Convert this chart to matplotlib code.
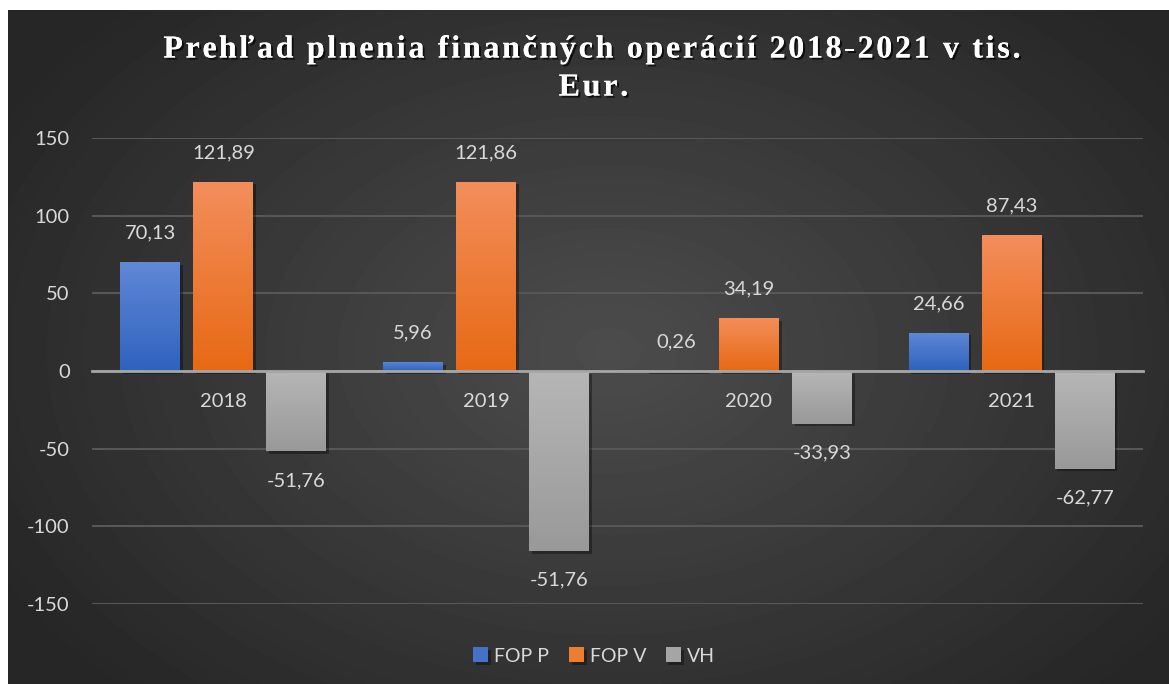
import numpy as np
import matplotlib
matplotlib.use("Agg")
import matplotlib.pyplot as plt
import matplotlib.patheffects as pe
from matplotlib.colors import LinearSegmentedColormap
from matplotlib.font_manager import FontProperties

plt.rcParams["axes.unicode_minus"] = False

# data
years = ["2018", "2019", "2020", "2021"]
fop_p = [70.13, 5.96, 0.26, 24.66]
fop_v = [121.89, 121.86, 34.19, 87.43]
vh = [-51.76, -115.90, -33.93, -62.77]
# labels exactly as printed in the original (2019 VH label differs from its bar)
fop_p_labels = ["70,13", "5,96", "0,26", "24,66"]
fop_v_labels = ["121,89", "121,86", "34,19", "87,43"]
vh_labels = ["-51,76", "-51,76", "-33,93", "-62,77"]
series_names = ["FOP P", "FOP V", "VH"]
title_lines = ["Prehľad plnenia finančných operácií 2018-2021 v tis.", "Eur."]

W, H = 1169, 684
fig = plt.figure(figsize=(W / 100, H / 100), dpi=100)
fig.patch.set_facecolor("white")

# radial gradient background of the chart area
bg = fig.add_axes([8 / W, 0, 1 - 8 / W, 1 - 10 / H])
bg.set_axis_off()
yy, xx = np.mgrid[0:674, 0:1161]
r = np.sqrt(((xx - 600) / 700.0) ** 2 + ((yy - 340) / 480.0) ** 2)
shade = np.clip(0.30 - 0.15 * r, 0.15, 0.30)
bg.imshow(shade, cmap="gray", vmin=0, vmax=1, aspect="auto",
          extent=[0, 1, 0, 1], interpolation="bilinear")
bg.set_xlim(0, 1)
bg.set_ylim(0, 1)

ax = fig.add_axes([92 / W, 80 / H, (1143 - 92) / W, (604 - 138) / H])
ax.patch.set_alpha(0)

label_font = "Lato"
txt_col = "#d9d9d9"

x = np.arange(len(years))
bw = 0.228
step = 0.278
series = [fop_p, fop_v, vh]
labels = [fop_p_labels, fop_v_labels, vh_labels]
grads = [("#6088d6", "#2f62be"), ("#f38e5c", "#e76914"), ("#b6b6b6", "#999999")]
solid = ["#4472c4", "#ed7d31", "#a5a5a5"]
bar_shadow = [pe.SimplePatchShadow(offset=(2, -2), shadow_rgbFace="black",
                                   alpha=0.35), pe.Normal()]

for i, (vals, labs, (ctop, cbot)) in enumerate(zip(series, labels, grads)):
    pos = x + (i - 1) * step
    bars = ax.bar(pos, vals, width=bw, color=solid[i], zorder=3,
                  label=series_names[i], linewidth=0)
    cmap = LinearSegmentedColormap.from_list("g%d" % i, [cbot, ctop])
    grad = np.linspace(0, 1, 256).reshape(-1, 1)
    for b, v, lab in zip(bars, vals, labs):
        b.set_path_effects(bar_shadow)
        x0 = b.get_x()
        y0, y1 = min(0, v), max(0, v)
        im = ax.imshow(grad, cmap=cmap, aspect="auto", origin="lower",
                       extent=[x0, x0 + bw, y0, y1], zorder=3.1,
                       interpolation="bilinear")
        im.set_clip_path(b)
        off = 21 if v >= 0 else -21
        ax.annotate(lab, (b.get_x() + bw / 2, v), xytext=(0, off),
                    textcoords="offset points", ha="center", va="center",
                    fontsize=14.5, color=txt_col, family=label_font, zorder=5)

ax.set_xlim(-0.5, 3.5)
ax.set_ylim(-150, 150)

# grid and axes styling
ax.set_yticks([-150, -100, -50, 0, 50, 100, 150])
ax.yaxis.grid(True, color="#575757", linewidth=1.5, zorder=0)
ax.set_axisbelow(True)
for s in ["top", "right", "left"]:
    ax.spines[s].set_visible(False)
ax.spines["bottom"].set_position(("data", 0))
ax.spines["bottom"].set_color("#a6a6a6")
ax.spines["bottom"].set_linewidth(2)
ax.spines["bottom"].set_zorder(4)
ax.set_xticks(x)
ax.set_xticklabels(years)
ax.tick_params(axis="x", length=0, pad=16, labelsize=14.5, colors=txt_col)
ax.tick_params(axis="y", length=0, pad=16, labelsize=14.5, colors=txt_col)
for t in ax.get_xticklabels() + ax.get_yticklabels():
    t.set_family(label_font)

leg = fig.legend(loc="center", bbox_to_anchor=(594 / W, 1 - 656 / H), ncol=3,
                 frameon=False, handlelength=0.78,
                 handleheight=0.78, handletextpad=0.3, columnspacing=1.0,
                 prop={"family": label_font, "size": 14})
for t in leg.get_texts():
    t.set_color(txt_col)

# title with extra letter spacing, placed one character at a time
shadow = [pe.withSimplePatchShadow(offset=(1.5, -1.5), shadow_rgbFace="black",
                                   alpha=0.7), pe.Normal()]
tprop = FontProperties(family="Liberation Serif", weight="bold", size=23)
renderer = fig.canvas.get_renderer()
spacing = 2.7  # px between letters
cx = 592
for line, ypix in zip(title_lines, [50, 88]):
    def wpx(s):
        w, _, _ = renderer.get_text_width_height_descent(s + "I", tprop, ismath=False)
        wi, _, _ = renderer.get_text_width_height_descent("I", tprop, ismath=False)
        return w - wi
    total = wpx(line) + spacing * (len(line) - 1)
    left = cx - total / 2
    for k, ch in enumerate(line):
        if ch == " ":
            continue
        xp = left + wpx(line[:k]) + spacing * k
        fig.text(xp / W, 1 - ypix / H, ch, ha="left", va="center",
                 fontproperties=tprop, color="white", path_effects=shadow)

fig.savefig("out.png", dpi=100)
